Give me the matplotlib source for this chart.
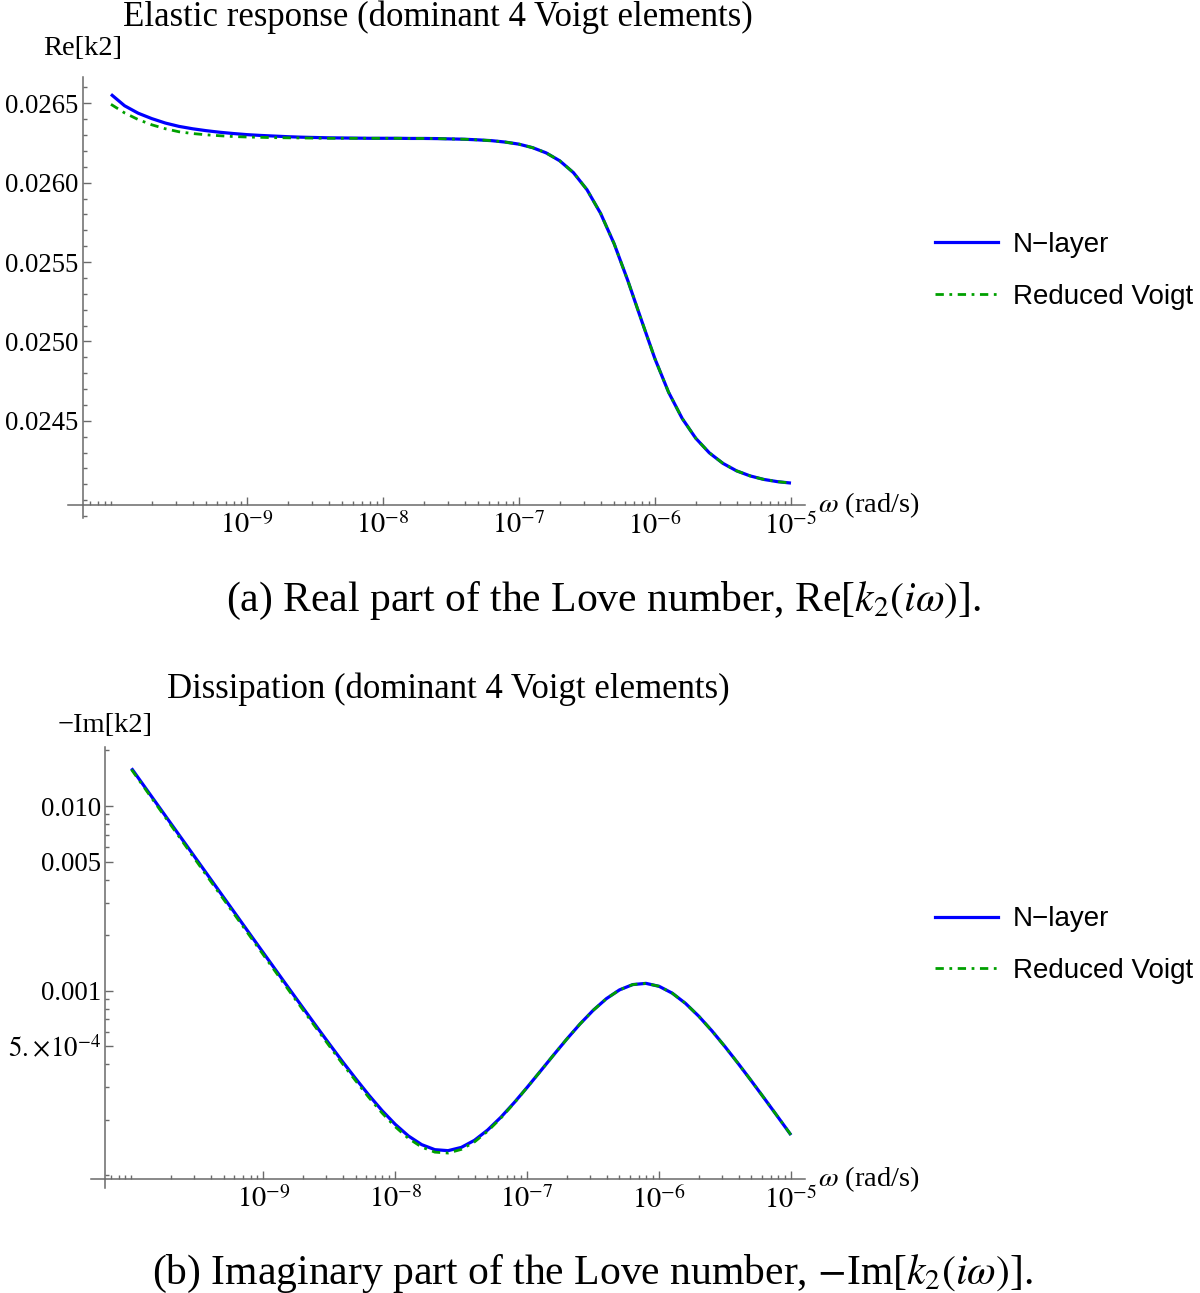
import numpy as np
import matplotlib
matplotlib.use('Agg')
import matplotlib.pyplot as plt
from matplotlib.lines import Line2D

plt.rcParams['font.family'] = ['Liberation Serif', 'DejaVu Serif']
plt.rcParams['mathtext.fontset'] = 'stix'

# log10 of the frequency (rad/s)
log_omega = [-10.0, -9.9, -9.8, -9.7, -9.6, -9.5, -9.4, -9.3, -9.2, -9.1,
             -9.0, -8.9, -8.8, -8.7, -8.6, -8.5, -8.4, -8.3, -8.2, -8.1,
             -8.0, -7.9, -7.8, -7.7, -7.6, -7.5, -7.4, -7.3, -7.2, -7.1,
             -7.0, -6.9, -6.8, -6.7, -6.6, -6.5, -6.4, -6.3, -6.2, -6.1,
             -6.0, -5.9, -5.8, -5.7, -5.6, -5.5, -5.4, -5.3, -5.2, -5.1,
             -5.0]

# Re[k2], N-layer
re_nlayer = [0.026557, 0.026485, 0.026438, 0.026404, 0.026376, 0.026355, 0.026340, 0.026328, 0.026318, 0.026310,
             0.026303, 0.026298, 0.026294, 0.026290, 0.026287, 0.026285, 0.026283, 0.026282, 0.026281, 0.026280,
             0.026280, 0.026280, 0.026279, 0.026279, 0.026278, 0.026276, 0.026274, 0.026270, 0.026265, 0.026256,
             0.026243, 0.026221, 0.026188, 0.026138, 0.026064, 0.025956, 0.025807, 0.025615, 0.025384, 0.025135,
             0.024890, 0.024680, 0.024515, 0.024390, 0.024298, 0.024232, 0.024185, 0.024153, 0.024131, 0.024117,
             0.024108]

# Re[k2], reduced Voigt
re_voigt = [0.026494, 0.026440, 0.026398, 0.026365, 0.026340, 0.026321, 0.026310, 0.026302, 0.026296, 0.026291,
            0.026288, 0.026286, 0.026284, 0.026283, 0.026282, 0.026281, 0.026280, 0.026280, 0.026280, 0.026280,
            0.026280, 0.026280, 0.026279, 0.026279, 0.026278, 0.026276, 0.026274, 0.026270, 0.026265, 0.026256,
            0.026243, 0.026221, 0.026188, 0.026138, 0.026064, 0.025956, 0.025807, 0.025615, 0.025384, 0.025135,
            0.024890, 0.024680, 0.024515, 0.024390, 0.024298, 0.024232, 0.024185, 0.024153, 0.024131, 0.024117,
            0.024108]

# -Im[k2], N-layer
im_nlayer = [0.01600, 0.012709, 0.010096, 0.008020, 0.006371, 0.005061, 0.004020, 0.003194, 0.002538, 0.002016,
             0.001603, 0.001275, 0.001014, 0.000808, 0.000644, 0.000515, 0.000413, 0.000334, 0.0002718, 0.0002243,
             0.0001889, 0.0001634, 0.0001467, 0.0001378, 0.0001361, 0.0001417, 0.0001548, 0.0001760, 0.0002063, 0.0002470,
             0.0002998, 0.0003664, 0.0004485, 0.0005468, 0.0006599, 0.0007828, 0.0009052, 0.0010104, 0.0010792, 0.0010959,
             0.0010561, 0.0009694, 0.0008538, 0.0007283, 0.0006067, 0.0004972, 0.0004030, 0.0003243, 0.0002597, 0.0002074,
             0.0001653]

# -Im[k2], reduced Voigt
im_voigt = [0.01576, 0.01250, 0.00991, 0.00786, 0.00623, 0.00494, 0.00392, 0.003114, 0.002475, 0.001966,
            0.001563, 0.001243, 0.000988, 0.000788, 0.000628, 0.000502, 0.000402, 0.000325, 0.000264, 0.0002176,
            0.0001832, 0.0001585, 0.0001423, 0.0001336, 0.0001321, 0.0001382, 0.0001517, 0.0001734, 0.0002042, 0.0002458,
            0.0002998, 0.0003664, 0.0004485, 0.0005468, 0.0006599, 0.0007828, 0.0009052, 0.0010104, 0.0010792, 0.0010959,
            0.0010561, 0.0009694, 0.0008538, 0.0007283, 0.0006067, 0.0004972, 0.0004030, 0.0003243, 0.0002597, 0.0002074,
            0.0001653]

x_major = [1e-9, 1e-8, 1e-7, 1e-6, 1e-5]
x_major_labels = [r'$10^{-9}$', r'$10^{-8}$', r'$10^{-7}$', r'$10^{-6}$', r'$10^{-5}$']

re_ticks = [0.0245, 0.0250, 0.0255, 0.0260, 0.0265]
re_tick_labels = ['0.0245', '0.0250', '0.0255', '0.0260', '0.0265']

im_ticks = [5e-4, 0.001, 0.005, 0.010]
im_tick_labels = [r'$5.\!\times\!10^{-4}$', '0.001', '0.005', '0.010']

AXC = '#6a6a6a'
W, H = 1200, 1293
FS = 20.5


def style_axes(ax, ylabel, x_spine, y_spine, ylabel_off):
    omega = 10 ** np.array(log_omega)
    ax.set_xscale('log')
    for s in ['top', 'right']:
        ax.spines[s].set_visible(False)
    ax.spines['left'].set_position(('data', x_spine))
    ax.spines['bottom'].set_position(('data', y_spine))
    for s in ['left', 'bottom']:
        ax.spines[s].set_color(AXC)
        ax.spines[s].set_linewidth(1.1)
    ax.set_xticks(x_major, x_major_labels)
    minor = [m * 10.0 ** e for e in range(-11, -4) for m in range(2, 10)]
    minor = [v for v in minor if 6.5e-11 < v < 1e-5] + [1e-10]
    ax.set_xticks(minor, minor=True)
    ax.xaxis.set_minor_formatter(plt.NullFormatter())
    ax.tick_params(which='both', direction='in', color=AXC, width=1.0,
                   labelsize=FS, labelcolor='black')
    ax.tick_params(which='major', length=6)
    ax.tick_params(which='minor', length=3)
    ax.tick_params(axis='y', pad=3, labelsize=19.3)
    ax.tick_params(axis='x', pad=5)
    ax.text(1.018, y_spine, r'$\omega$ (rad/s)', transform=ax.get_yaxis_transform(),
            ha='left', va='center', fontsize=FS)
    ax.text(x_spine, 1.0 + ylabel_off, ylabel, transform=ax.get_xaxis_transform(),
            ha='center', va='center', fontsize=FS)
    return omega


fig = plt.figure(figsize=(12, 12.93), dpi=100)

# panel (a): real part
ax1 = fig.add_axes([68 / W, 1 - 518 / H, 737 / W, 441.3 / H])
omega = style_axes(ax1, 'Re[k2]', 10 ** -10.208, 0.023968, 0.063)
ax1.plot(omega, re_nlayer, color='#0000ff', lw=2.3, solid_capstyle='butt')
ax1.plot(omega, re_voigt, color='#00a000', lw=2.0, dashes=(3, 2, 1, 2))
ax1.set_xlim(10 ** -10.316, 10 ** -4.897)
ax1.set_ylim(0.023888, 0.026668)
ax1.set_yticks(re_ticks, re_tick_labels)
ax1.set_yticks([v / 10000 for v in range(239, 267)], minor=True)

# panel (b): imaginary part
ax2 = fig.add_axes([90.7 / W, 1 - 1188.3 / H, 714.3 / W, 441 / H])
ax2.set_yscale('log')
omega = style_axes(ax2, '\u2212Im[k2]', 10 ** -10.198, 10 ** -4.021, 0.05)
ax2.plot(omega, im_nlayer, color='#0000ff', lw=2.3, solid_capstyle='butt')
ax2.plot(omega, im_voigt, color='#00a000', lw=2.0, dashes=(3, 2, 1, 2))
ax2.set_xlim(10 ** -10.309, 10 ** -4.894)
ax2.set_ylim(10 ** -4.070, 10 ** -1.682)
ax2.set_yticks(im_ticks, im_tick_labels)
yminor = [m * 10.0 ** e for e in range(-4, -1) for m in range(1, 10)]
ax2.set_yticks([v for v in yminor if v < 0.021], minor=True)
ax2.yaxis.set_minor_formatter(plt.NullFormatter())

# legends
handles = [Line2D([], [], color='#0000ff', lw=2.3),
           Line2D([], [], color='#00a000', lw=2.0, dashes=(3, 2, 1, 2))]
labels = ['N\u2212layer', 'Reduced Voigt']
for ax, yc in [(ax1, 1 - 271 / H), (ax2, 1 - 945 / H)]:
    ax.legend(handles, labels, loc='center left', bbox_to_anchor=(935 / W, yc),
              bbox_transform=fig.transFigure, frameon=False, borderpad=0, borderaxespad=0,
              handlelength=2.25, handletextpad=0.55, labelspacing=0.92,
              prop={'family': 'Liberation Sans', 'size': 20})

# titles
fig.text(437.5 / W, 1 - 26 / H, 'Elastic response (dominant 4 Voigt elements)',
         ha='center', va='baseline', fontsize=25)
fig.text(448 / W, 1 - 698.3 / H, 'Dissipation (dominant 4 Voigt elements)',
         ha='center', va='baseline', fontsize=25)

# captions
fig.text(603.5 / W, 1 - 611 / H, r'(a) Real part of the Love number, Re[$k_2(i\omega)$].',
         ha='center', va='baseline', fontsize=30)
fig.text(592.5 / W, 1 - 1284 / H, r'(b) Imaginary part of the Love number, $-$Im[$k_2(i\omega)$].',
         ha='center', va='baseline', fontsize=30)

fig.savefig('out.png', dpi=100)
